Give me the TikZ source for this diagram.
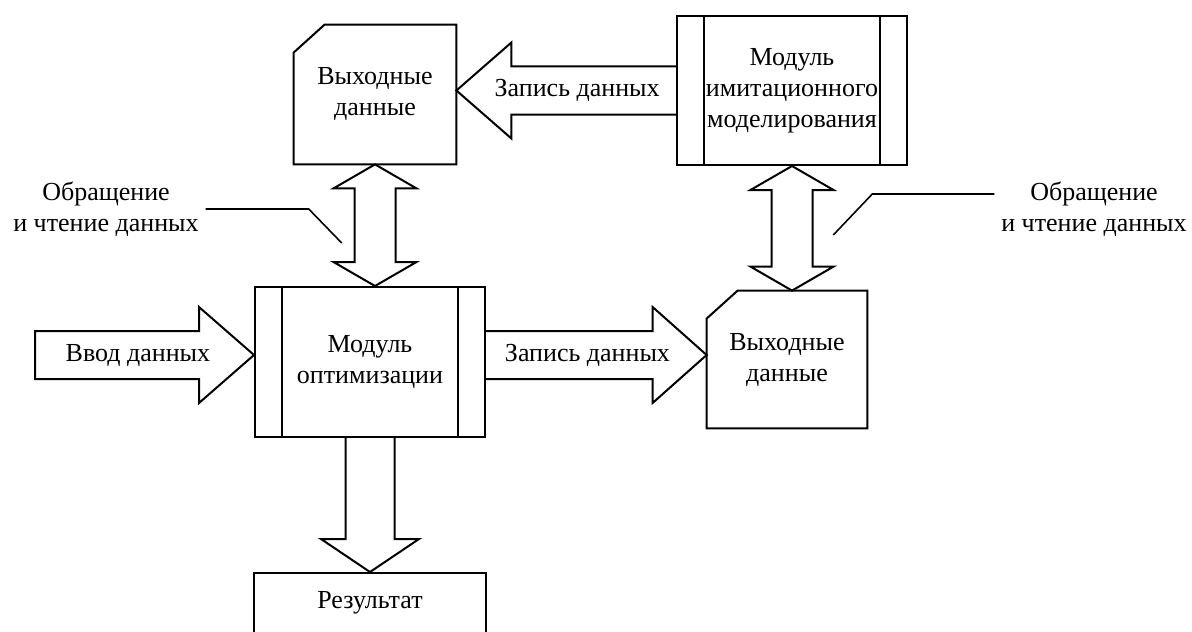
\documentclass[tikz,border=0pt]{standalone}
\usepackage{fontspec}
\setmainfont{Liberation Serif}
\usepackage{tikz}
\usetikzlibrary{calc}
\tikzset{>=latex}
\tikzset{mybox/.style={draw, line width=1pt, minimum width=115pt, minimum height=75pt, inner sep=0pt, align=center},
  mycard/.style={inner sep=0pt, minimum width=81pt, minimum height=69.5pt, align=center},
  myarrow/.style={draw, line width=1pt, line join=miter},
  myline/.style={line width=0.8pt}}

\begin{document}
\begin{tikzpicture}[x=0.5pt, y=-0.5pt, font=\fontsize{13}{15.5}\selectfont]
\clip (0,0) rectangle (1192,631);

% Blocks
\node[mybox] (opt) at (370,362) {Модуль\\оптимизации};
\node[mybox, minimum height=74.5pt] (imit) at (792,90.5) {Модуль\\имитационного\\моделирования};
\node[mycard] (out1) at (375,94.5) {Выходные\\данные};
\node[mycard, minimum width=80pt, minimum height=68.5pt] (out2) at (787,359.5) {Выходные\\данные};
\node[mybox, minimum width=116pt, minimum height=30pt] (res) at (370,603) {Результат};

% Side bars of the modules
\foreach \b in {opt, imit} {
  \draw[line width=1pt] ($(\b.north west)+(28,0)$) -- ($(\b.south west)+(28,0)$);
  \draw[line width=1pt] ($(\b.north east)+(-28,0)$) -- ($(\b.south east)+(-28,0)$);
}

% Cards with cut corner
\foreach \c in {out1, out2} {
  \draw[line width=1pt] ($(\c.north west)+(0,28)$) -- ($(\c.north west)+(31,0)$)
    -- (\c.north east) -- (\c.south east) -- (\c.south west) -- cycle;
}

% Input arrow
\coordinate (inp) at (35,355);
\coordinate (inpe) at (opt.west |- inp);
\draw[myarrow] ($(inp)+(0,-24)$) -- ($(inpe)+(-55,-24)$) -- ($(inpe)+(-55,-48)$) -- (inpe)
  -- ($(inpe)+(-55,48)$) -- ($(inpe)+(-55,24)$) -- ($(inp)+(0,24)$) -- cycle;
\node (inplbl) at ($(inp)!0.47!(inpe)$) {Ввод данных};

% Write arrow to the lower card
\coordinate (w2s) at (opt.east |- inp);
\coordinate (w2e) at (out2.west |- inp);
\draw[myarrow] ($(w2s)+(0,-24)$) -- ($(w2e)+(-54,-24)$) -- ($(w2e)+(-54,-48)$) -- (w2e)
  -- ($(w2e)+(-54,48)$) -- ($(w2e)+(-54,24)$) -- ($(w2s)+(0,24)$);
\node (w2lbl) at ($(w2s)!0.46!(w2e)$) {Запись данных};

% Write arrow to the upper card
\coordinate (w1s) at (imit.west);
\coordinate (w1e) at (out1.east |- imit.west);
\draw[myarrow] ($(w1s)+(0,-24)$) -- ($(w1e)+(55,-24)$) -- ($(w1e)+(55,-48)$) -- (w1e)
  -- ($(w1e)+(55,48)$) -- ($(w1e)+(55,24)$) -- ($(w1s)+(0,24)$);
\node (w1lbl) at ($(w1e)!0.55!(w1s)$) {Запись данных};

% Double arrows
\coordinate (d1s) at (out1.south);
\coordinate (d1e) at (out1.south |- opt.north);
\coordinate (d2s) at (imit.south);
\coordinate (d2e) at (imit.south |- out2.north);
\foreach \s/\e in {d1s/d1e, d2s/d2e} {
  \draw[myarrow] (\s) -- ($(\s)+(41.5,24)$) -- ($(\s)+(20.5,24)$) -- ($(\e)+(20.5,-24)$)
    -- ($(\e)+(41.5,-24)$) -- (\e) -- ($(\e)+(-41.5,-24)$) -- ($(\e)+(-20.5,-24)$)
    -- ($(\s)+(-20.5,24)$) -- ($(\s)+(-41.5,24)$) -- cycle;
}

% Result arrow
\draw[myarrow] ($(opt.south)+(-24.5,0)$) -- ($(res.north)+(-24.5,-33)$) -- ($(res.north)+(-49,-33)$)
  -- (res.north) -- ($(res.north)+(49,-33)$) -- ($(res.north)+(24.5,-33)$) -- ($(opt.south)+(24.5,0)$);

% Notes
\node[align=center] (lnote) at (106,209) {Обращение\\и чтение данных};
\draw[myline] (lnote.east) -- ++(103,0) -- ++(33,34);
\node[align=center] (rnote) at (1094,209) {Обращение\\и чтение данных};
\draw[myline] ($(rnote.west)+(0,-15)$) -- ++(-122,0) -- ++(-39,41);
\end{tikzpicture}
\end{document}
